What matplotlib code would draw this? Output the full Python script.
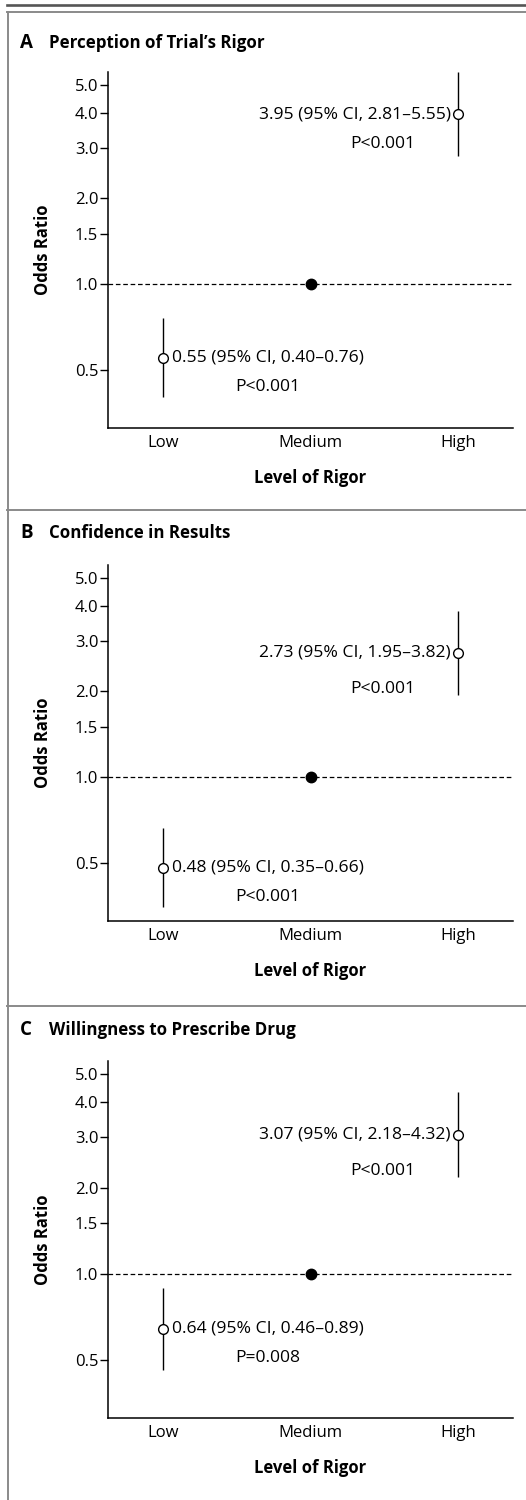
import numpy as np
import matplotlib
matplotlib.use("Agg")
import matplotlib.pyplot as plt
from matplotlib.lines import Line2D

# data
levels = ["Low", "Medium", "High"]
panel_letters = ["A", "B", "C"]
panel_titles = ["Perception of Trial\u2019s Rigor", "Confidence in Results", "Willingness to Prescribe Drug"]

or_low = [0.55, 0.48, 0.64]
ci_low_lo = [0.40, 0.35, 0.46]
ci_low_hi = [0.76, 0.66, 0.89]
p_low = ["P<0.001", "P<0.001", "P=0.008"]

or_high = [3.95, 2.73, 3.07]
ci_high_lo = [2.81, 1.95, 2.18]
ci_high_hi = [5.55, 3.82, 4.32]
p_high = ["P<0.001", "P<0.001", "P<0.001"]

ref_or = 1.0
yticks = [0.5, 1.0, 1.5, 2.0, 3.0, 4.0, 5.0]

W, H = 526, 1500
plt.rcParams.update({
    "font.family": ["Open Sans", "DejaVu Sans"],
    "font.size": 12,
    "axes.linewidth": 1.1,
})

fig = plt.figure(figsize=(W / 100, H / 100), dpi=100)

# axes boxes in pixels: left, right, top, bottom
ax_left, ax_right = 108, 513
ax_tops = [72, 565, 1061]
ax_bots = [428, 921, 1418]
title_y = [43, 533, 1030]
p_dy_high = [30, 36, 36]

FS = 12.6
LINE = dict(color="black", lw=1.0)

for i in range(3):
    ax = fig.add_axes([ax_left / W, 1 - ax_bots[i] / H,
                       (ax_right - ax_left) / W, (ax_bots[i] - ax_tops[i]) / H])
    ax.set_yscale("log")
    ax.set_ylim(0.312, 5.56)
    ax.set_xlim(-0.375, 2.375)

    ax.axhline(ref_or, color="black", lw=0.9, ls=(0, (3.7, 2.2)), zorder=1)

    # low
    ax.vlines(0, ci_low_lo[i], ci_low_hi[i], **LINE, zorder=2)
    ax.plot(0, or_low[i], "o", mfc="white", mec="black", ms=7, mew=1.0, zorder=3)
    # high
    ax.vlines(2, ci_high_lo[i], ci_high_hi[i], **LINE, zorder=2)
    ax.plot(2, or_high[i], "o", mfc="white", mec="black", ms=7, mew=1.0, zorder=3)
    # reference
    ax.plot(1, ref_or, "o", color="black", ms=7.5, zorder=3)

    ax.annotate(f"{or_low[i]:.2f} (95% CI, {ci_low_lo[i]:.2f}\u2013{ci_low_hi[i]:.2f})",
                (0, or_low[i]), xytext=(9, 0), textcoords="offset pixels",
                ha="left", va="center", fontsize=FS)
    ax.annotate(p_low[i], (0, or_low[i]), xytext=(105, -29), textcoords="offset pixels",
                ha="center", va="center", fontsize=FS)
    ax.annotate(f"{or_high[i]:.2f} (95% CI, {ci_high_lo[i]:.2f}\u2013{ci_high_hi[i]:.2f})",
                (2, or_high[i]), xytext=(-7, 0), textcoords="offset pixels",
                ha="right", va="center", fontsize=FS)
    ax.annotate(p_high[i], (2, or_high[i]), xytext=(-75, -p_dy_high[i]), textcoords="offset pixels",
                ha="center", va="center", fontsize=FS)

    ax.set_yticks(yticks)
    ax.set_yticklabels([f"{t:.1f}" for t in yticks])
    ax.yaxis.set_minor_locator(plt.NullLocator())
    ax.tick_params(axis="y", direction="out", length=6, width=1.0, pad=1, labelsize=12)
    ax.set_xticks(range(len(levels)))
    ax.set_xticklabels(levels)
    ax.tick_params(axis="x", length=0, pad=5, labelsize=12)

    for s in ["top", "right"]:
        ax.spines[s].set_visible(False)

    ax.set_xlabel("Level of Rigor", fontweight="bold", fontsize=12, labelpad=13)
    ax.set_ylabel("Odds Ratio", fontweight="bold", fontsize=12)
    ax.yaxis.set_label_coords((43 - ax_left) / (ax_right - ax_left), 0.5)
    ax.yaxis.label.set_va("center")

    fig.text(20 / W, 1 - title_y[i] / H, panel_letters[i], fontweight="bold",
             fontsize=13.5, va="center", ha="left")
    fig.text(49 / W, 1 - title_y[i] / H, panel_titles[i], fontweight="bold",
             fontsize=12.2, va="center", ha="left")

# frame lines
def hline(y, x0, color, lw):
    fig.add_artist(Line2D([x0 / W, 1], [1 - y / H, 1 - y / H], color=color, lw=lw,
                          transform=fig.transFigure))

hline(4.7, 7, "#555555", 1.9)
hline(12, 7, "#8a8a8a", 1.4)
hline(510, 7, "#8a8a8a", 1.4)
hline(1006, 7, "#8a8a8a", 1.4)
fig.add_artist(Line2D([7.5 / W, 7.5 / W], [1 - 12 / H, 0], color="#8a8a8a", lw=1.4,
                      transform=fig.transFigure))

fig.savefig("out.png", dpi=100)
